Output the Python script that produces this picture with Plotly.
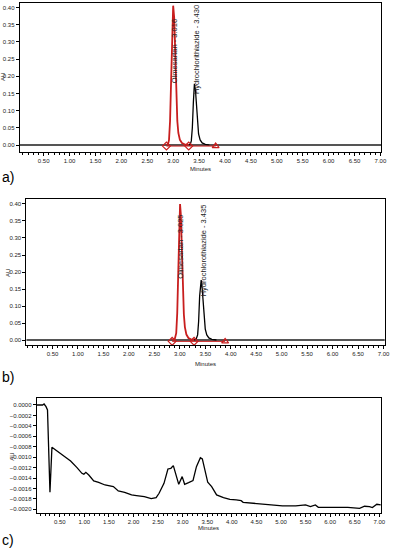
import plotly.graph_objects as go

# ---------------- data ----------------
# Panel a
a_olm_t = [2.87, 2.90, 2.92, 2.94, 2.96, 2.98, 3.00, 3.02, 3.04, 3.06, 3.08, 3.10, 3.13, 3.17, 3.22, 3.30]
a_olm_au = [0.000, 0.002, 0.015, 0.070, 0.185, 0.330, 0.405, 0.370, 0.250, 0.140, 0.070, 0.035, 0.015, 0.006, 0.002, 0.000]
a_hctz_t = [3.30, 3.33, 3.35, 3.37, 3.39, 3.41, 3.43, 3.45, 3.47, 3.49, 3.52, 3.56, 3.62, 3.70]
a_hctz_au = [0.000, 0.002, 0.012, 0.050, 0.125, 0.178, 0.160, 0.105, 0.060, 0.032, 0.015, 0.006, 0.002, 0.000]
a_marker_t = [2.87, 3.30, 3.82]
a_marker_au = [-0.003, -0.003, -0.003]
a_labels = ["Olmesartan - 3.016", "Hydrochlorithiazide - 3.430"]
a_label_t = [3.017, 3.441]
a_label_au = [0.273, 0.276]

# Panel b
b_olm_t = [2.85, 2.90, 2.93, 2.95, 2.97, 2.99, 3.005, 3.02, 3.04, 3.06, 3.08, 3.10, 3.13, 3.17, 3.22, 3.28]
b_olm_au = [0.000, 0.002, 0.020, 0.080, 0.200, 0.345, 0.400, 0.370, 0.255, 0.145, 0.075, 0.038, 0.016, 0.006, 0.002, 0.000]
b_hctz_t = [3.28, 3.32, 3.35, 3.37, 3.39, 3.42, 3.44, 3.46, 3.48, 3.50, 3.53, 3.57, 3.63, 3.72]
b_hctz_au = [0.000, 0.002, 0.015, 0.055, 0.130, 0.176, 0.150, 0.100, 0.058, 0.032, 0.015, 0.006, 0.002, 0.000]
b_marker_t = [2.85, 3.28, 3.89]
b_marker_au = [-0.004, -0.004, -0.004]
b_labels = ["Olmesartan - 3.025", "Hydrochlorothiazide - 3.435"]
b_label_t = [3.02, 3.464]
b_label_au = [0.274, 0.265]

# Panel c (blank)
c_t = [0.03, 0.15, 0.18, 0.22, 0.25, 0.30, 0.34, 0.49, 0.62, 0.72, 0.85, 0.95, 0.99, 1.03, 1.09, 1.19,
       1.29, 1.42, 1.59, 1.69, 1.82, 1.96, 2.06, 2.22, 2.36, 2.46, 2.52, 2.62, 2.70, 2.76, 2.81, 2.88,
       2.92, 2.99, 3.04, 3.12, 3.21, 3.28, 3.36, 3.40, 3.46, 3.51, 3.59, 3.69, 3.83, 3.96, 4.09, 4.19,
       4.23, 4.49, 4.76, 5.03, 5.30, 5.50, 5.60, 5.70, 5.76, 5.96, 6.16, 6.36, 6.60, 6.70, 6.80, 6.86,
       6.95, 7.03]
c_au = [0.0, 0.0, 0.000019, -0.000032, -0.000096, -0.001674, -0.000812, -0.000914, -0.000990, -0.001073,
        -0.001201, -0.001310, -0.001329, -0.001291, -0.001342, -0.001457, -0.001482, -0.001534, -0.001565,
        -0.001649, -0.001674, -0.001725, -0.001738, -0.001757, -0.001796, -0.001776, -0.001693, -0.001502,
        -0.001227, -0.001214, -0.001163, -0.001406, -0.001521, -0.001374, -0.001521, -0.001489, -0.001450,
        -0.001182, -0.001010, -0.001035, -0.001278, -0.001482, -0.001565, -0.001725, -0.001776, -0.001808,
        -0.001821, -0.001834, -0.001866, -0.001885, -0.001904, -0.001936, -0.001936, -0.001917, -0.001949,
        -0.001917, -0.001962, -0.001962, -0.001968, -0.001962, -0.001981, -0.001942, -0.001949, -0.001968,
        -0.001904, -0.001917]

x_tickvals = [0.5, 1.0, 1.5, 2.0, 2.5, 3.0, 3.5, 4.0, 4.5, 5.0, 5.5, 6.0, 6.5, 7.0]
panel_names = ["a)", "b)", "c)"]

# ---------------- figure ----------------
W, H = 400, 548
FONT = "Liberation Sans"
RED = "#c81e1e"

fig = go.Figure()

def px_x(p):
    return p / W

def px_y(p):
    return 1 - p / H

def add_peak_panel(xa, ya, olm_t, olm_au, hctz_t, hctz_au, m_t, m_au, x0, x1):
    fig.add_trace(go.Scatter(x=[x0, x1], y=[0, 0], mode="lines",
                             line=dict(color="#555555", width=1.8), xaxis=xa, yaxis=ya,
                             showlegend=False, hoverinfo="skip"))
    fig.add_trace(go.Scatter(x=hctz_t, y=hctz_au, mode="lines",
                             line=dict(color="black", width=1.3), xaxis=xa, yaxis=ya,
                             showlegend=False))
    fig.add_trace(go.Scatter(x=m_t, y=m_au, mode="lines+markers",
                             line=dict(color=RED, width=1),
                             marker=dict(symbol=["diamond-open", "diamond-open", "triangle-up-open"],
                                         size=6, color=RED, line=dict(width=1.2, color=RED)),
                             xaxis=xa, yaxis=ya, showlegend=False))
    fig.add_trace(go.Scatter(x=olm_t, y=olm_au, mode="lines",
                             line=dict(color=RED, width=1.8), xaxis=xa, yaxis=ya,
                             showlegend=False))

add_peak_panel("x", "y", a_olm_t, a_olm_au, a_hctz_t, a_hctz_au, a_marker_t, a_marker_au, 0.038, 7.015)
add_peak_panel("x2", "y2", b_olm_t, b_olm_au, b_hctz_t, b_hctz_au, b_marker_t, b_marker_au, -0.014, 7.026)
fig.add_trace(go.Scatter(x=c_t, y=c_au, mode="lines", line=dict(color="black", width=1.3),
                         xaxis="x3", yaxis="y3", showlegend=False))

tickfont = dict(family=FONT, size=6, color="#222")

def xaxis_cfg(domain, rng, anchor):
    return dict(domain=domain, range=rng, anchor=anchor, tickmode="array", tickvals=x_tickvals,
                tickformat=".2f", ticks="outside", ticklen=3, tickwidth=1, tickcolor="black",
                showline=True, linecolor="black", linewidth=1, mirror=True,
                showgrid=False, zeroline=False, tickfont=tickfont,
                minor=dict(dtick=0.1, tick0=0, ticks="outside", ticklen=2, tickcolor="black", showgrid=False))

def yaxis_cfg(domain, rng, anchor, dtick, fmt):
    return dict(domain=domain, range=rng, anchor=anchor, dtick=dtick, tick0=0, tickformat=fmt,
                ticks="outside", ticklen=3, tickwidth=1, tickcolor="black",
                showline=True, linecolor="black", linewidth=1, mirror=True,
                showgrid=False, zeroline=False, tickfont=tickfont)

fig.update_layout(
    width=W, height=H, margin=dict(l=0, r=0, t=0, b=0),
    paper_bgcolor="white", plot_bgcolor="white",
    xaxis=xaxis_cfg([px_x(20), px_x(387)], [0.038, 7.015], "y"),
    yaxis=yaxis_cfg([px_y(152), px_y(3)], [-0.0203, 0.4128], "x", 0.05, ".2f"),
    xaxis2=xaxis_cfg([px_x(26.7), px_x(390.7)], [-0.014, 7.026], "y2"),
    yaxis2=yaxis_cfg([px_y(345), px_y(199.3)], [-0.0147, 0.4138], "x2", 0.05, ".2f"),
    xaxis3=xaxis_cfg([px_x(37.3), px_x(386.7)], [0.031, 7.033], "y3"),
    yaxis3=yaxis_cfg([px_y(513), px_y(398.3)], [-0.002071, 0.000128], "x3", 0.0002, ".4f"),
)

ann = []
for xa, ya, labs, lt, la in [("x", "y", a_labels, a_label_t, a_label_au),
                             ("x2", "y2", b_labels, b_label_t, b_label_au)]:
    for t, xx, yy in zip(labs, lt, la):
        ann.append(dict(text=t, x=xx, y=yy, xref=xa, yref=ya, showarrow=False, textangle=-90,
                        xanchor="center", yanchor="middle",
                        font=dict(family=FONT, size=7.5, color="#222")))

for xc, yc in [((20 + 387) / 2, 169), ((26.7 + 390.7) / 2, 364), ((37.3 + 386.7) / 2, 528)]:
    ann.append(dict(text="Minutes", x=px_x(xc), y=px_y(yc), xref="paper", yref="paper",
                    showarrow=False, xanchor="center", yanchor="middle",
                    font=dict(family=FONT, size=6, color="#222")))
for xc, yc in [(3, 77), (8, 273), (12, 457)]:
    ann.append(dict(text="AU", x=px_x(xc), y=px_y(yc), xref="paper", yref="paper",
                    showarrow=False, textangle=-90, xanchor="center", yanchor="middle",
                    font=dict(family=FONT, size=6, color="#222")))
for name, yc in zip(panel_names, [177, 377, 540]):
    ann.append(dict(text=name, x=0, y=px_y(yc), xref="paper", yref="paper",
                    showarrow=False, xanchor="left", yanchor="middle",
                    font=dict(family=FONT, size=14, color="black")))

fig.update_layout(annotations=ann)
fig.write_html("out.html")
